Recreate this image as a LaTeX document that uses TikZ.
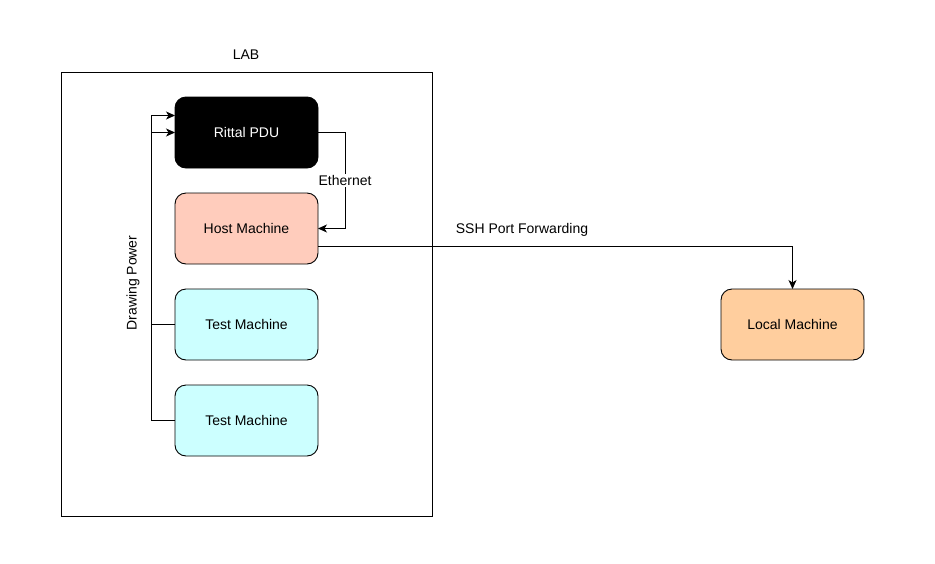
\documentclass[tikz,border=0pt]{standalone}
\usepackage{fontspec}
\setmainfont{Liberation Sans}
\usetikzlibrary{arrows.meta,positioning}

\definecolor{hostfill}{RGB}{255,204,188}
\definecolor{testfill}{RGB}{204,255,255}
\definecolor{localfill}{RGB}{255,206,158}

\begin{document}
\begin{tikzpicture}[x=1pt,y=-1pt,>={Stealth[length=9pt,width=8pt,inset=2.5pt]},
                    line width=0.9pt]
  \tikzstyle{every node}=[font=\fontsize{14}{16}\selectfont]
  \tikzstyle{machine}=[draw,rounded corners=11pt,minimum width=143pt,
                       minimum height=71pt,inner sep=0pt,outer sep=0pt]
  \useasboundingbox (0,0) rectangle (935,563);

  \node[draw,minimum width=371pt,minimum height=444pt] (lab) at (246.5,294) {};
  \node (labtitle) at (246,55) {LAB};

  \node[machine,fill=black,text=white] (pdu)   at (246.5,132.5) {Rittal PDU};
  \node[machine,fill=hostfill]         (host)  [below=25pt of pdu]  {Host Machine};
  \node[machine,fill=testfill]         (test1) [below=25pt of host] {Test Machine};
  \node[machine,fill=testfill]         (test2) [below=25pt of test1] {Test Machine};
  \node[machine,fill=localfill]        (local) at (792.5,324.5) {Local Machine};

  \node[rotate=90] (power) at (133,283) {Drawing Power};

  \draw[->] (test1.west) -- ++(-24,0) |- (pdu.west);
  \draw[->] (test2.west) -- ++(-24,0) |- ([yshift=17pt]pdu.west);

  \draw[->] (pdu.east) -- ++(27,0) |- (host.east)
        node[pos=0.25,fill=white,inner sep=1pt,anchor=center] {Ethernet};

  \draw[->] ([yshift=-18pt]host.east) -| (local.north)
        node[pos=0.215,above=6pt] {SSH Port Forwarding};

\end{tikzpicture}
\end{document}
